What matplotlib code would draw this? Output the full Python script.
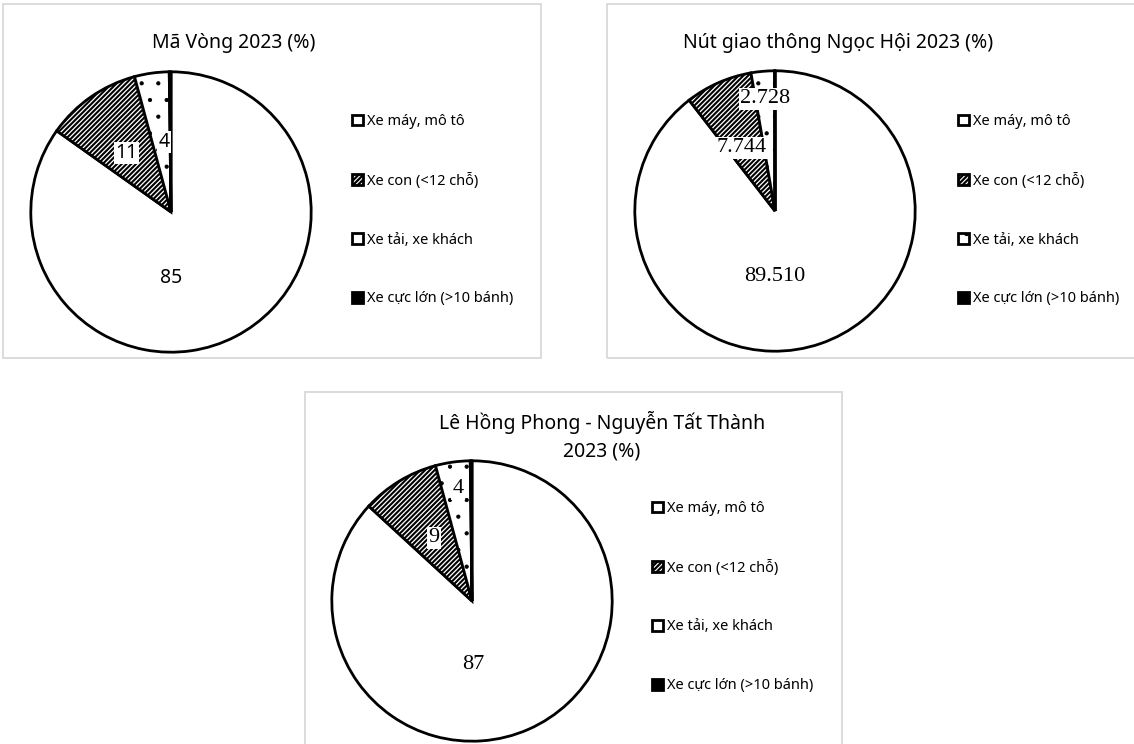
import matplotlib.pyplot as plt
from matplotlib.patches import Rectangle

plt.rcParams['hatch.linewidth'] = 1.6
SANS = ['Noto Sans', 'DejaVu Sans']
SERIF = ['Liberation Serif', 'DejaVu Serif']

categories = ['Xe máy, mô tô', 'Xe con (<12 chỗ)', 'Xe tải, xe khách', 'Xe cực lớn (>10 bánh)']

# share of each vehicle type, %
ma_vong = [85, 11, 4, 0.2]
ngoc_hoi = [89.510, 7.744, 2.728, 0.018]
le_hong_phong = [87, 9, 4, 0.2]

titles = ['Mã Vòng 2023 (%)',
          'Nút giao thông Ngọc Hội 2023 (%)',
          'Lê Hồng Phong - Nguyễn Tất Thành\n2023 (%)']

fills = ['white', 'white', 'white', 'black']
hatches = [None, '/' * 7, '.', None]
hatch_lw = [1.5, 1.5, 0.6, 1.5]

W, H = 1134, 744
fig = plt.figure(figsize=(W / 100, H / 100), dpi=100)

def px_rect(x0, y0, x1, y1):
    return [x0 / W, 1 - y1 / H, (x1 - x0) / W, (y1 - y0) / H]

# light grey frames around each chart
for x0, y0, x1, y1 in [(3, 4, 541, 358), (607, 4, 1140, 358), (305, 392, 842, 760)]:
    fig.patches.append(Rectangle((x0 / W, 1 - y1 / H), (x1 - x0) / W, (y1 - y0) / H,
                                 transform=fig.transFigure, fill=False,
                                 edgecolor='#d9d9d9', lw=1.3))

# label offsets (pie radius = 1)
label_pos = [
    [(0, -0.47), (-0.32, 0.42), (-0.05, 0.50)],
    [(0, -0.47), (-0.24, 0.45), (-0.07, 0.80)],
    [(0.01, -0.45), (-0.27, 0.45), (-0.10, 0.80)],
]
fmts = ['{:.0f}', '{:.3f}', '{:.0f}']
label_fonts = [(SANS, 14), (SERIF, 16), (SERIF, 16)]

charts = [
    (ma_vong, (171, 212), (234, 43), (352, 114)),
    (ngoc_hoi, (775, 211), (838, 43), (958, 114)),
    (le_hong_phong, (472, 601), (602, 436), (652, 501)),
]
R = 143

for i, (vals, (cx, cy), (tx, ty), (lx, ly)) in enumerate(charts):
    ax = fig.add_axes(px_rect(cx - R, cy - R, cx + R, cy + R))
    wedges, _ = ax.pie(vals, colors=fills, startangle=90, counterclock=False,
                       radius=1, wedgeprops=dict(edgecolor='black', linewidth=2))
    for w, h, hl in zip(wedges, hatches, hatch_lw):
        if h:
            w.set_hatch(h)
            if hasattr(w, 'set_hatch_linewidth'):
                w.set_hatch_linewidth(hl)
    ax.set_xlim(-1.02, 1.02)
    ax.set_ylim(-1.02, 1.02)
    ax.axis('off')

    fam, size = label_fonts[i]
    for j, (px, py) in enumerate(label_pos[i]):
        bbox = None if j == 0 else dict(facecolor='white', edgecolor='none', pad=1)
        ax.text(px, py, fmts[i].format(vals[j]), ha='center', va='center',
                family=fam, fontsize=size, bbox=bbox, zorder=5)

    fig.text(tx / W, 1 - ty / H, titles[i], ha='center', va='center',
             family=SANS, fontsize=14, linespacing=1.5)

    fig.legend(wedges, categories, loc='upper left',
               bbox_to_anchor=(lx / W, 1 - ly / H), frameon=False,
               prop=dict(family=SANS, size=10.5), handlelength=0.75,
               handleheight=0.75, handletextpad=0.3, labelspacing=3.0,
               borderpad=0, borderaxespad=0)

fig.savefig('out.png', dpi=100)
